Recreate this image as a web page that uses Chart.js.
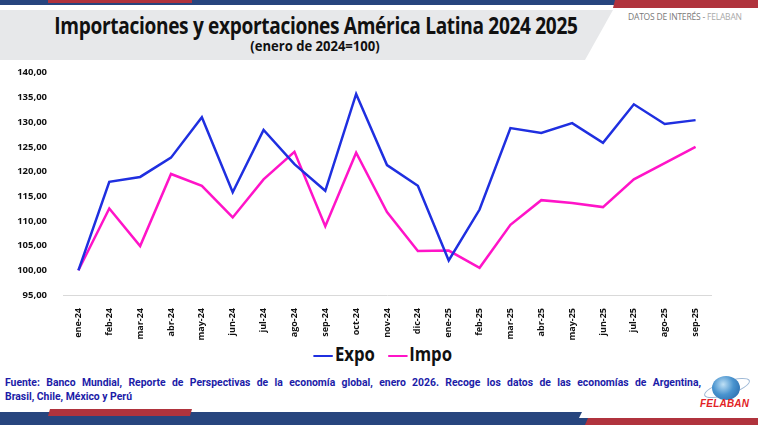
<!DOCTYPE html>
<html>
<head>
<meta charset="utf-8">
<script src="https://cdn.jsdelivr.net/npm/chart.js@4.4.1/dist/chart.umd.min.js"></script>
<style>
  html, body { margin: 0; padding: 0; background: #fff; }
  #page { position: relative; width: 758px; height: 425px; overflow: hidden; background: #fff; }
  .abs { position: absolute; }
  #topBlue { left: 0; top: 0; width: 620px; height: 5px; background: #27457e; }
  #topRedL { left: 48px; top: 0; width: 144px; height: 3px; background: #b0333d; }
  #topRedR { left: 613px; top: 0; width: 145px; height: 8px; background: #b0333d;
    clip-path: polygon(2px 0, 100% 0, 100% 100%, 0 100%); }
  #panel { left: 0; top: 10px; width: 613px; height: 50px; background: #e7e8ea;
    clip-path: polygon(0 0, 100% 0, 585px 100%, 0 100%); }
  #title { left: 0; top: 9px; width: 632px; text-align: center; font: bold 23px "Open Sans", sans-serif;
    color: #111; letter-spacing: -0.4px; transform: scaleX(0.83); transform-origin: 316px 0; }
  #subtitle { left: 0; top: 36px; width: 630px; text-align: center; font: bold 14.5px "Open Sans", sans-serif;
    color: #111; transform: scaleX(0.9); transform-origin: 315px 0; }
  #datos { left: 628px; top: 11px; font: 8.5px "Open Sans", sans-serif; color: #7a7a7a; letter-spacing: -0.2px; }
  #datos span { color: #a9a9a9; }
  #legend { left: 0; top: 341px; width: 758px; text-align: center; font: bold 19px "Open Sans", sans-serif; color: #111;
    transform: scaleX(0.88); transform-origin: 375px 0; }
  #legend i { display: inline-block; width: 22px; height: 2.5px; vertical-align: middle; margin: 0 2px 0 10px; }
  .fuente { left: 5px; width: 696px; font: bold 10.4px Roboto, sans-serif; color: #1c1ca8; line-height: 14px; white-space: nowrap; }
  #fuente1 { top: 376px; text-align: justify; text-align-last: justify; white-space: normal; }
  #fuente2 { top: 390px; }
  #botBlue { left: 0; top: 412px; width: 758px; height: 13px; background: #27457e; }
  #botRedL { left: 48px; top: 409px; width: 144px; height: 7px; background: #b0333d;
    clip-path: polygon(2px 0, 100% 0, 142px 100%, 0 100%); }
  #botRedR { left: 585px; top: 418px; width: 173px; height: 7px; background: #b0333d;
    clip-path: polygon(3px 0, 100% 0, 100% 100%, 0 100%); }
  #botWhite { left: 570px; top: 412px; width: 188px; height: 6px; background: #fff;
    clip-path: polygon(12px 0, 100% 0, 100% 100%, 9px 100%); }
  #globe { left: 712px; top: 376px; width: 28px; height: 24px; border-radius: 50%;
    background: radial-gradient(circle at 40% 35%, #bfe0f5 0%, #4a94cf 45%, #1f5fa3 100%); }
  #ring { left: 703px; top: 381px; width: 46px; height: 12px; border: 1px solid #9fb9d6; border-radius: 50%;
    transform: rotate(-18deg); }
  #felaban { left: 700px; top: 398px; font: italic bold 10px "Liberation Sans", Arial, sans-serif; color: #e21f26; letter-spacing: 0.2px; }
  #chartBox { left: 0; top: 59px; width: 722px; height: 281px; }
</style>
</head>
<body>
<div id="page">
  <div class="abs" id="topBlue"></div>
  <div class="abs" id="topRedL"></div>
  <div class="abs" id="topRedR"></div>
  <div class="abs" id="panel"></div>
  <div class="abs" id="title">Importaciones y exportaciones América Latina 2024 2025</div>
  <div class="abs" id="subtitle">(enero de 2024=100)</div>
  <div class="abs" id="datos">DATOS DE INTERÉS - <span>FELABAN</span></div>
  <div class="abs" id="chartBox"><canvas id="line-chartcanvas" width="722" height="281"></canvas></div>
  <div class="abs" id="legend"><i style="background:#1f2fe0"></i>Expo <i style="background:#ff14c8"></i>Impo</div>
  <div class="abs fuente" id="fuente1">Fuente: Banco Mundial, Reporte de Perspectivas de la economía global, enero 2026. Recoge los datos de las economías de Argentina,</div>
  <div class="abs fuente" id="fuente2">Brasil, Chile, México y Perú</div>
  <div class="abs" id="ring"></div>
  <div class="abs" id="globe"></div>
  <div class="abs" id="felaban">FELABAN</div>
  <div class="abs" id="botBlue"></div>
  <div class="abs" id="botWhite"></div>
  <div class="abs" id="botRedL"></div>
  <div class="abs" id="botRedR"></div>
</div>
<script>
// meses ene-24 .. sep-25
var meses = ["ene-24", "feb-24", "mar-24", "abr-24", "may-24", "jun-24", "jul-24", "ago-24", "sep-24", "oct-24",
  "nov-24", "dic-24", "ene-25", "feb-25", "mar-25", "abr-25", "may-25", "jun-25", "jul-25", "ago-25", "sep-25"];

var expo = [100.0, 117.9, 118.9, 122.8, 131.0, 115.8, 128.4, 121.5, 116.1, 135.7,
  121.3, 117.1, 102.0, 112.3, 128.8, 127.8, 129.8, 125.8, 133.6, 129.6, 130.4];
var impo = [100.0, 112.5, 104.9, 119.5, 117.1, 110.7, 118.4, 124.0, 108.9, 123.8,
  111.8, 103.9, 104.0, 100.5, 109.2, 114.2, 113.6, 112.8, 118.4, 121.7, 125.0];

var ejeMin = 95, ejeMax = 140, ejePaso = 5;

var ctx = document.getElementById("line-chartcanvas");

var data = {
  labels: meses,
  datasets: [
    {
      label: "Expo",
      data: expo,
      borderColor: "#1f2fe0",
      backgroundColor: "#1f2fe0",
      borderWidth: 2.5,
      fill: false,
      tension: 0,
      pointRadius: 0
    },
    {
      label: "Impo",
      data: impo,
      borderColor: "#ff14c8",
      backgroundColor: "#ff14c8",
      borderWidth: 2.5,
      fill: false,
      tension: 0,
      pointRadius: 0
    }
  ]
};

var options = {
  responsive: false,
  animation: false,
  layout: { padding: { top: 2, right: 11, bottom: 0, left: 0 } },
  plugins: {
    legend: { display: false },
    tooltip: { enabled: false }
  },
  scales: {
    x: {
      offset: true,
      grid: { display: false },
      border: { display: true, color: "#d9d9d9", width: 1 },
      afterFit: function(scale) { scale.height = 45; },
      ticks: {
        autoSkip: false,
        maxRotation: 90,
        minRotation: 90,
        padding: 5,
        color: "#111",
        font: { family: "Open Sans", weight: "bold", size: 9 }
      }
    },
    y: {
      min: ejeMin,
      max: ejeMax,
      grid: { display: false },
      border: { display: false },
      afterFit: function(scale) { scale.width = 63; },
      ticks: {
        stepSize: ejePaso,
        padding: 8,
        color: "#111",
        font: { family: "Open Sans", weight: "bold", size: 9.5 },
        callback: function(v) { return v.toFixed(2).replace(".", ","); }
      }
    }
  }
};

var chart = new Chart(ctx, {
  type: "line",
  data: data,
  options: options
});
</script>
</body>
</html>
